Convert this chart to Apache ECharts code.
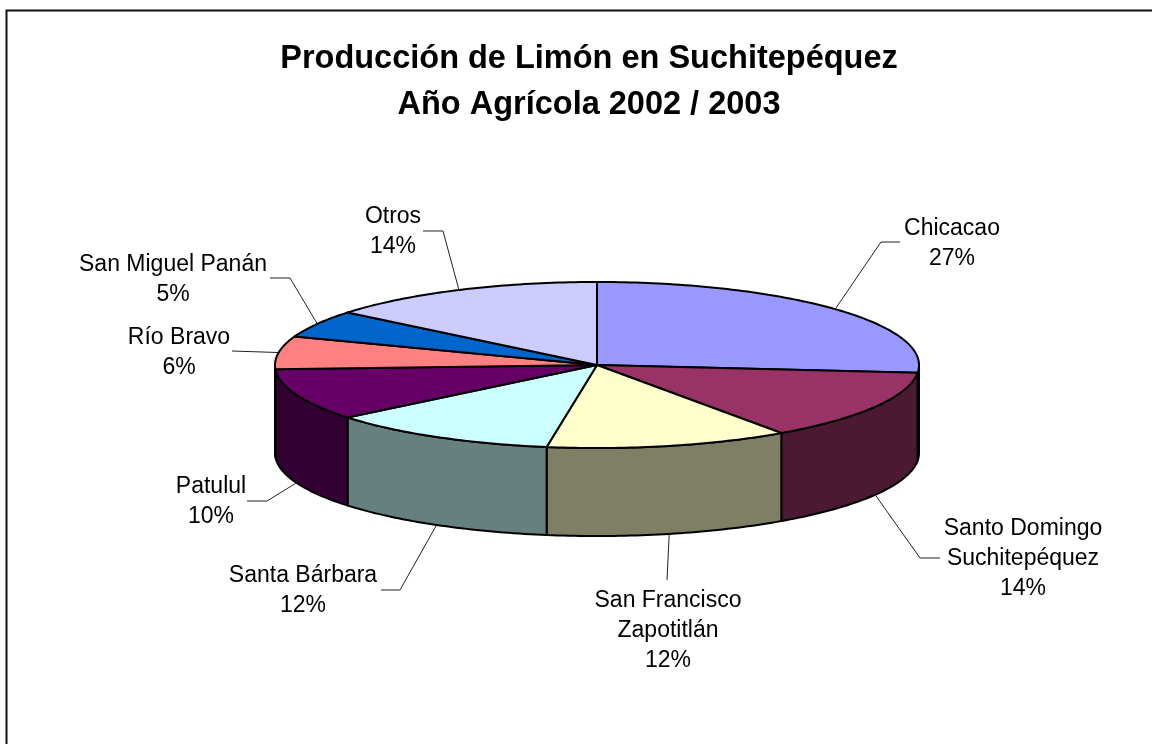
<!DOCTYPE html>
<html>
<head>
<meta charset="utf-8">
<style>html,body{margin:0;padding:0;background:#fff}#c{width:1152px;height:744px}</style>
<script src="https://cdn.jsdelivr.net/npm/echarts@6/dist/echarts.min.js"></script>
</head>
<body>
<div id="c"></div>
<script>
const titleText = 'Producción de Limón en Suchitepéquez\nAño Agrícola 2002 / 2003';
const categories = ['Chicacao', 'Santo Domingo\nSuchitepéquez', 'San Francisco\nZapotitlán', 'Santa Bárbara', 'Patulul', 'Río Bravo', 'San Miguel Panán', 'Otros'];
const values = [26.5, 13.8, 12.2, 11.6, 10.1, 6.4, 5.3, 14.1];

const topColors = ['#9999ff', '#993366', '#ffffcc', '#ccffff', '#660066', '#ff8080', '#0066cc', '#ccccff'];
const wallColors = ['#4c4c7f', '#4c1933', '#7f7f66', '#667f7f', '#330033', '#7f4040', '#003366', '#66667f'];

// Layout of the tilted pie
const CX = 597, CY = 365, RX = 322, RY = 83, DEPTH = 88;
const FONT = '"Liberation Sans", Arial, sans-serif';
const labelCenters = [[952, 243.5], [1023, 559], [668, 630.5], [303, 591], [211, 502], [179, 352.5], [173, 279.5], [393, 232]];
const labelElbows = [
  [[881, 242], [900, 242]],
  [[920, 558], [940, 558]],
  [[667, 580]],
  [[400, 590], [381, 590]],
  [[267, 501], [247, 501]],
  [[232, 351]],
  [[290, 278], [270, 278]],
  [[443, 231], [423, 231]]
];

const total = values.reduce((a, b) => a + b, 0);
const starts = [];
values.reduce((acc, v, i) => { starts[i] = acc; return acc + v; }, 0);
const toDeg = v => v / total * 360;
function rim(deg, dy) {
  const r = deg * Math.PI / 180;
  return [CX + RX * Math.sin(r), CY - RY * Math.cos(r) + (dy || 0)];
}
function arc(a, b, dy) {
  const pts = [];
  const n = Math.max(2, Math.ceil(Math.abs(b - a)));
  for (let k = 0; k <= n; k++) pts.push(rim(a + (b - a) * k / n, dy));
  return pts;
}
const lineStyle = { stroke: '#000', lineWidth: 2, lineJoin: 'round' };

function renderWall(params) {
  const i = params.dataIndex;
  const a = Math.max(toDeg(starts[i]), 90);
  const b = Math.min(toDeg(starts[i] + values[i]), 270);
  if (b <= a) return { type: 'group', children: [] };
  const pts = arc(a, b, 0).concat(arc(b, a, DEPTH));
  return { type: 'polygon', shape: { points: pts }, style: Object.assign({ fill: wallColors[i] }, lineStyle) };
}
function renderTop(params) {
  const i = params.dataIndex;
  const a = toDeg(starts[i]), b = toDeg(starts[i] + values[i]);
  const pts = [[CX, CY]].concat(arc(a, b, 0));
  return { type: 'polygon', shape: { points: pts }, style: Object.assign({ fill: topColors[i] }, lineStyle) };
}
function renderLabel(params) {
  const i = params.dataIndex;
  const mid = toDeg(starts[i] + values[i] / 2);
  const front = mid > 90 && mid < 270;
  const anchor = rim(mid, front ? DEPTH : 0);
  const pct = Math.round(values[i] / total * 100) + '%';
  return {
    type: 'group',
    children: [
      { type: 'polyline', shape: { points: [anchor].concat(labelElbows[i]) },
        style: { stroke: '#222', lineWidth: 1, fill: null } },
      { type: 'text', x: labelCenters[i][0], y: labelCenters[i][1],
        style: { text: categories[i] + '\n' + pct, fill: '#000', font: '23px ' + FONT,
                 lineHeight: 30, align: 'center', verticalAlign: 'middle' } }
    ]
  };
}

const seriesData = values.map((v, i) => ({ name: categories[i], value: v }));
const chart = echarts.init(document.getElementById('c'), null, { renderer: 'canvas' });
chart.setOption({
  animation: false,
  backgroundColor: '#fff',
  title: {
    text: titleText, left: 584, top: 31, textAlign: 'center',
    textStyle: { fontFamily: FONT, fontSize: 32.5, fontWeight: 'bold', color: '#000', lineHeight: 46 }
  },
  graphic: [{
    type: 'rect', silent: true, z: -1,
    shape: { x: 6.5, y: 10.5, width: 1300, height: 900 },
    style: { fill: 'transparent', stroke: '#111', lineWidth: 2 }
  }],
  series: [
    { type: 'custom', coordinateSystem: 'none', z: 2, silent: true, renderItem: renderWall, data: seriesData },
    { type: 'custom', coordinateSystem: 'none', z: 3, silent: true, renderItem: renderTop, data: seriesData },
    { type: 'custom', coordinateSystem: 'none', z: 4, silent: true, renderItem: renderLabel, data: seriesData }
  ]
});
</script>
</body>
</html>
